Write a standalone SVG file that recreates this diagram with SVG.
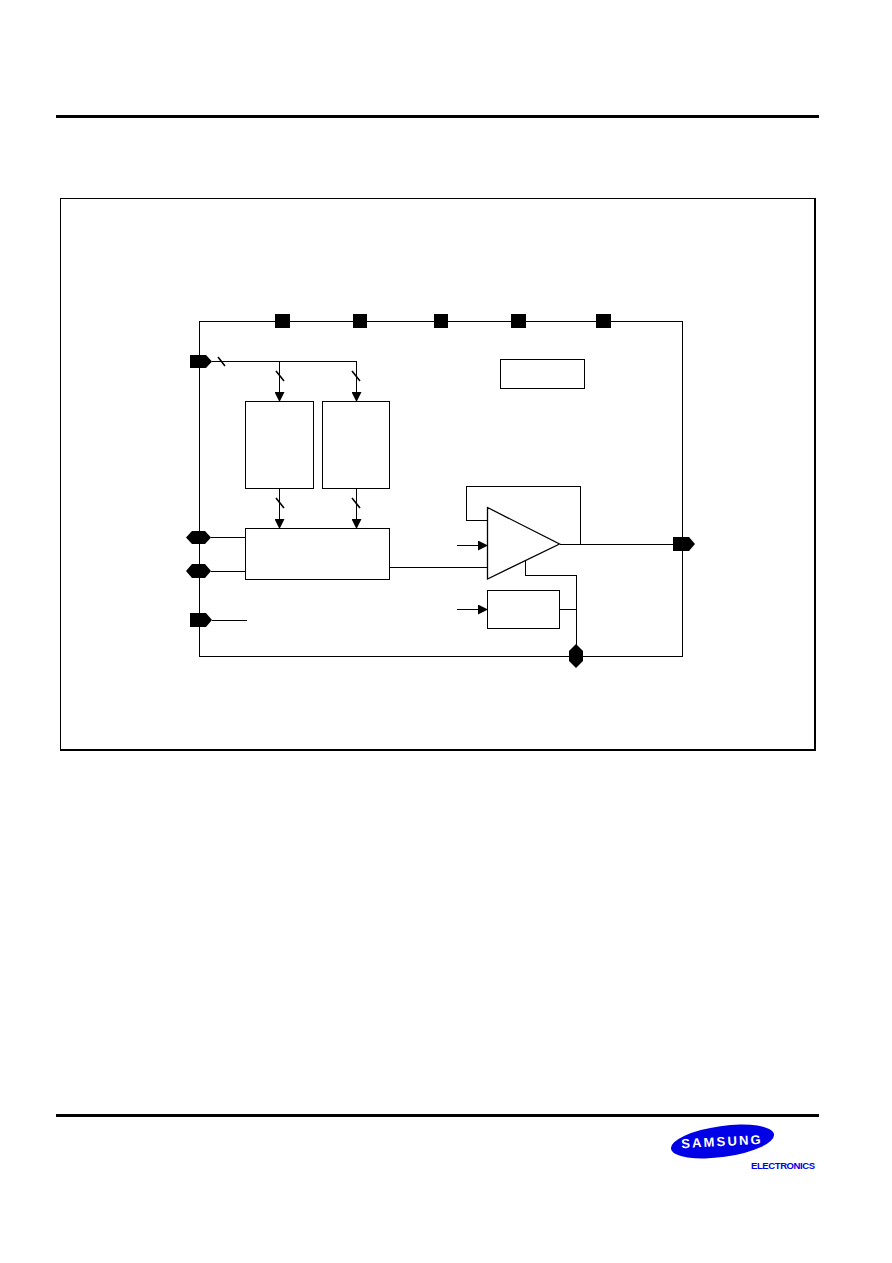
<svg xmlns="http://www.w3.org/2000/svg" width="892" height="1263" viewBox="0 0 892 1263">
<defs>
<style>
.l{fill:none;stroke:#000;stroke-width:1;shape-rendering:crispEdges}
.s{fill:none;stroke:#000;stroke-width:1.600}
.b{fill:#fff;stroke:#000;stroke-width:1;shape-rendering:crispEdges}
.p{fill:#000;stroke:none}
</style>
<marker id="ah" markerUnits="userSpaceOnUse" markerWidth="10" markerHeight="10" refX="9.500" refY="5" orient="auto"><path d="M0,0 L10,5 L0,10 Z" fill="#000"/></marker>
</defs>
<rect width="892" height="1263" fill="#fff"/>
<g id="page">
<rect x="56" y="115" width="763" height="3" fill="#000"/>
<rect x="56" y="1114" width="763" height="3" fill="#000"/>
<path class="l" d="M60.500,750 V198.500 H815"/>
<path d="M815,198 V750 H60" fill="none" stroke="#000" stroke-width="2"/>
</g>
<g id="connectors">
<path class="l" d="M199.500,321.500 H682.500 V656.500 H199.500 Z"/>
<path class="l" d="M212,361.500 H356.500"/>
<path class="l" marker-end="url(#ah)" d="M279.500,361.500 V401.500"/>
<path class="l" marker-end="url(#ah)" d="M356.500,361.500 V401.500"/>
<path class="l" marker-end="url(#ah)" d="M279.500,488.500 V528.500"/>
<path class="l" marker-end="url(#ah)" d="M356.500,488.500 V528.500"/>
<path class="s" d="M218,357 L225,366 M276,371 L284,381 M352,371 L360,381 M276,498 L284,508 M352,498 L360,508"/>
<path class="l" d="M211,537.500 H247 M211,571.500 H247 M212,620.500 H247"/>
<path class="l" d="M389.500,567.500 H487.500"/>
<path class="l" marker-end="url(#ah)" d="M457,545.500 H487.500"/>
<path class="l" marker-end="url(#ah)" d="M457,609.500 H487.500"/>
<path class="l" d="M487,520.500 H466.500 V486.500 H580.500 V544.500"/>
<path class="l" d="M559.500,544.500 H673"/>
<path class="l" d="M525.500,560 V575.500 H576.500 V645"/>
<path class="l" d="M558,609.500 H576.500"/>
</g>
<g id="box-a"><rect class="b" x="245.500" y="401.500" width="68" height="87"/></g>
<g id="box-b"><rect class="b" x="322.500" y="401.500" width="67" height="87"/></g>
<g id="box-c"><rect class="b" x="245.500" y="528.500" width="144" height="51"/></g>
<g id="box-d"><rect class="b" x="500.500" y="359.500" width="84" height="29"/></g>
<g id="box-e"><rect class="b" x="487.500" y="590.500" width="72" height="38"/></g>
<g id="amp"><path d="M487.500,507.500 L559.500,544 L487.500,579 Z" fill="#fff" stroke="#000" stroke-width="1.300"/></g>
<g id="pin-top-1"><rect class="p" x="275" y="314" width="15" height="14"/></g>
<g id="pin-top-2"><rect class="p" x="353" y="314" width="14" height="14"/></g>
<g id="pin-top-3"><rect class="p" x="434" y="314" width="14" height="14"/></g>
<g id="pin-top-4"><rect class="p" x="511" y="314" width="15" height="14"/></g>
<g id="pin-top-5"><rect class="p" x="596" y="314" width="15" height="14"/></g>
<g id="pin-in-1"><path class="p" d="M190,355 H206 L212,361.500 L206,368 H190 Z"/></g>
<g id="pin-bi-1"><path class="p" d="M186,537.500 L192,531 H205 L211,537.500 L205,544 H192 Z"/></g>
<g id="pin-bi-2"><path class="p" d="M186,571 L192,564 H205 L211,571 L205,578 H192 Z"/></g>
<g id="pin-in-2"><path class="p" d="M190,613 H206 L212,620 L206,627 H190 Z"/></g>
<g id="pin-out"><path class="p" d="M673,537 H689 L695,544 L689,551 H673 Z"/></g>
<g id="pin-bottom"><path class="p" d="M576,644 L583,651 V661 L576,668 L569,661 V651 Z"/></g>
<g id="logo">
<ellipse cx="722.500" cy="1141.500" rx="52" ry="15.500" fill="#0000e6" transform="rotate(-8 722.500 1141.500)"/>
<text x="722" y="1146" text-anchor="middle" font-family="'Liberation Sans',Arial,sans-serif" font-size="13" font-weight="bold" letter-spacing="2.200" fill="#fff" transform="rotate(-3 722 1141)">SAMSUNG</text>
<text x="751" y="1169" font-family="'Liberation Sans',Arial,sans-serif" font-size="9.500" font-weight="bold" letter-spacing="-0.400" fill="#0000e6">ELECTRONICS</text>
</g>
</svg>
